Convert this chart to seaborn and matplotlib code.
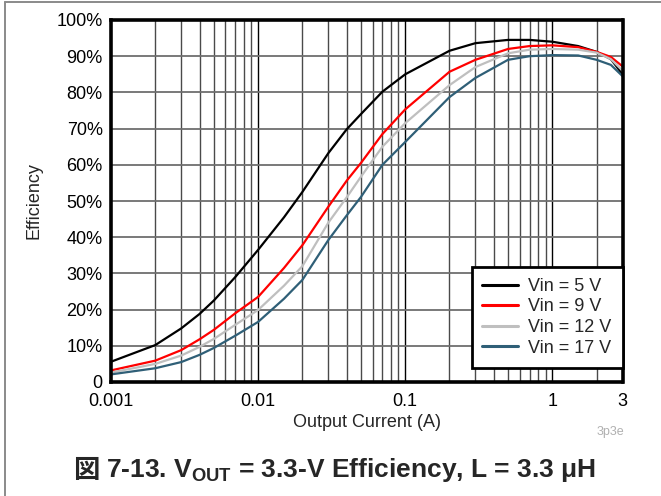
import numpy as np
import pandas as pd
import seaborn as sns
import matplotlib
matplotlib.use("Agg")
import matplotlib.pyplot as plt
from matplotlib.ticker import FixedLocator, NullFormatter
from matplotlib.lines import Line2D

# Output current (A)
current = [0.001, 0.002, 0.003, 0.004, 0.005, 0.007, 0.01, 0.015, 0.02, 0.03,
           0.04, 0.05, 0.07, 0.1, 0.2, 0.3, 0.5, 0.7, 1.0, 1.5, 2.0, 2.5, 3.0]

# Efficiency (%) for each input voltage
eff_5v = [5.6, 10.2, 14.8, 18.8, 22.5, 29.0, 36.5, 45.5, 52.5, 63.2,
          69.8, 74.0, 80.2, 85.0, 91.5, 93.6, 94.5, 94.5, 94.0, 92.8, 91.2, 89.2, 85.0]
eff_9v = [3.2, 5.9, 8.8, 11.8, 14.4, 19.0, 23.5, 31.5, 37.8, 48.4,
          55.6, 60.5, 68.5, 75.3, 85.7, 89.0, 92.0, 92.8, 93.0, 92.5, 91.2, 89.8, 87.2]
eff_12v = [2.6, 5.0, 7.3, 9.7, 11.9, 15.8, 19.9, 26.6, 32.0, 44.0,
           51.0, 56.7, 65.0, 71.5, 82.0, 87.0, 90.8, 91.8, 92.0, 91.8, 91.0, 89.2, 86.0]
eff_17v = [2.1, 3.8, 5.5, 7.5, 9.4, 12.8, 16.6, 23.0, 28.2, 39.2,
           46.0, 51.1, 60.0, 66.3, 78.7, 84.0, 89.0, 90.0, 90.3, 90.2, 89.0, 87.6, 84.5]

series_names = ["Vin = 5 V", "Vin = 9 V", "Vin = 12 V", "Vin = 17 V"]
series_colors = ["#000000", "#ff0000", "#bfbfbf", "#2f5f77"]

x_tick_values = [0.001, 0.01, 0.1, 1, 3]
x_tick_labels = ["0.001", "0.01", "0.1", "1", "3"]
y_tick_values = [0, 10, 20, 30, 40, 50, 60, 70, 80, 90, 100]
y_tick_labels = ["0"] + [f"{v}%" for v in y_tick_values[1:]]

frames = []
for name, vals in zip(series_names, [eff_5v, eff_9v, eff_12v, eff_17v]):
    frames.append(pd.DataFrame({"current": current, "eff": vals, "series": name}))
df = pd.concat(frames, ignore_index=True)

sns.set_theme(style="white")
plt.rcParams["font.family"] = ["Liberation Sans", "Noto Sans CJK JP", "DejaVu Sans"]
plt.rcParams["mathtext.fontset"] = "custom"
plt.rcParams["mathtext.rm"] = "Liberation Sans:bold"
plt.rcParams["mathtext.it"] = "Liberation Sans:bold"
plt.rcParams["mathtext.bf"] = "Liberation Sans:bold"

fig = plt.figure(figsize=(6.61, 4.96), dpi=100)
ax = fig.add_axes([111 / 661, 1 - 382 / 496, (622.5 - 111) / 661, (382 - 20) / 496])

ax.set_xscale("log")
ax.set_xlim(0.001, 3)
ax.set_ylim(0, 100)

# log grid: minor decade lines grey, decade lines black, 10 % rows grey
minor_x = [m * 10.0 ** e for e in range(-3, 1) for m in range(2, 10)]
minor_x = [v for v in minor_x if v < 3]
for v in minor_x:
    ax.axvline(v, color="#4a4a4a", lw=1.0, zorder=1)
for v in [0.01, 0.1, 1]:
    ax.axvline(v, color="#000000", lw=1.0, zorder=1)
for v in y_tick_values[1:-1]:
    ax.axhline(v, color="#6e6e6e", lw=1.3, zorder=1)

sns.lineplot(data=df, x="current", y="eff", hue="series", hue_order=series_names,
             palette=series_colors, linewidth=1.6, ax=ax, legend=False,
             sort=False, zorder=3)

ax.xaxis.set_major_locator(FixedLocator(x_tick_values))
ax.set_xticklabels(x_tick_labels)
ax.xaxis.set_minor_formatter(NullFormatter())
ax.xaxis.set_minor_locator(FixedLocator([]))
ax.set_yticks(y_tick_values)
ax.set_yticklabels(y_tick_labels)
ax.tick_params(axis="both", which="both", length=0, labelsize=13, colors="#000000")
ax.tick_params(axis="x", pad=8)
ax.tick_params(axis="y", pad=6)

for sp in ax.spines.values():
    sp.set_visible(True)
    sp.set_color("#000000")
    sp.set_linewidth(2.6)
    sp.set_zorder(5)

ax.set_xlabel("Output Current (A)", fontsize=13, labelpad=3)
ax.set_ylabel("Efficiency", fontsize=13, labelpad=10)

handles = [Line2D([0], [0], color=c, lw=2.2) for c in series_colors]
leg = ax.legend(handles, series_names, loc="lower right",
                bbox_to_anchor=(1.0, 0.04), fontsize=13, frameon=True,
                fancybox=False, framealpha=1, edgecolor="#000000",
                handlelength=1.95, handletextpad=0.6, labelspacing=0.2,
                borderpad=0.6, borderaxespad=0.0)
leg.get_frame().set_linewidth(2.0)
leg.set_zorder(6)

fig.text(610 / 661, 1 - 432 / 496, "3p3e", fontsize=9, color="#b0b0b0",
         ha="center", va="center")

# caption: CJK glyph drawn on its own, rest uses mathtext for the subscript
fig.text(86 / 661, 1 - 470 / 496, "図", fontsize=19,
         family=["Noto Sans CJK JP"], fontweight="bold",
         ha="center", va="center")
fig.text(106 / 661, 1 - 470 / 496,
         "7-13. $V_{OUT}$ = 3.3-V Efficiency, L = 3.3 μH",
         fontsize=19, fontweight="bold", ha="left", va="center")

# outer frame (left and top edges)
fig.add_artist(Line2D([4.5 / 661, 4.5 / 661], [0, 1 - 1.5 / 496],
                      transform=fig.transFigure, color="#8a8a8a", lw=1.4))
fig.add_artist(Line2D([4.5 / 661, 1], [1 - 1.5 / 496, 1 - 1.5 / 496],
                      transform=fig.transFigure, color="#8a8a8a", lw=1.4))

fig.savefig("out.png", dpi=100)
